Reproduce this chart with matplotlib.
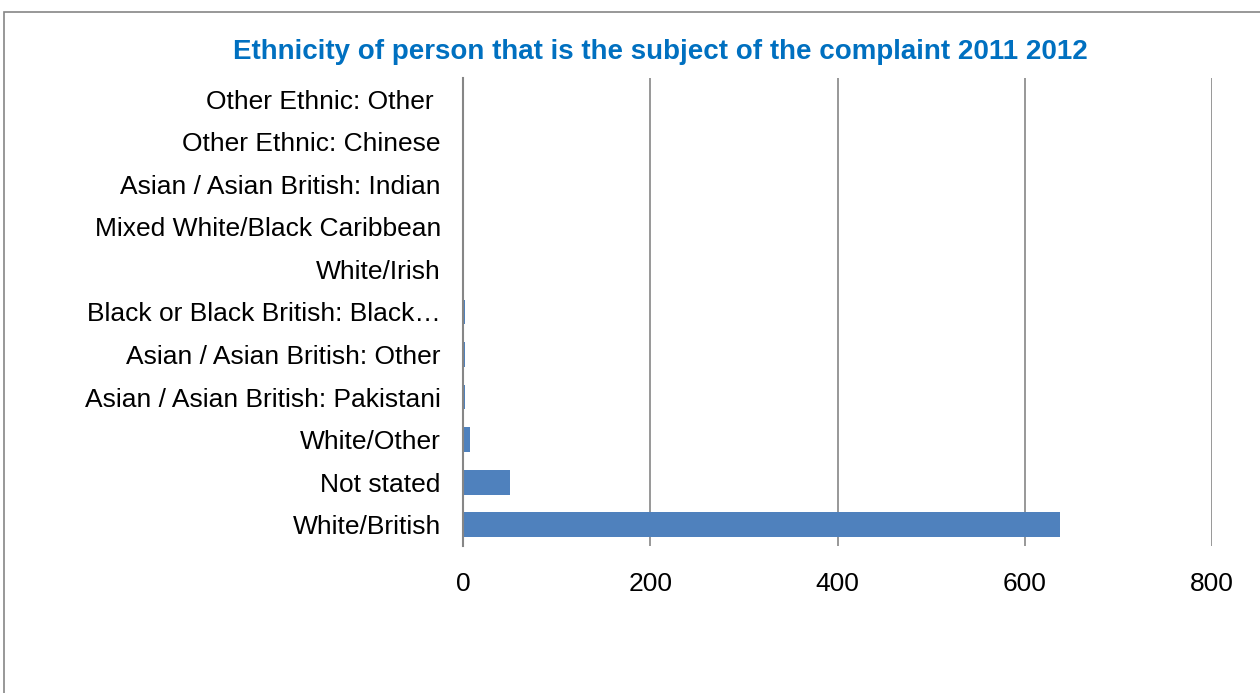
import matplotlib
matplotlib.use("Agg")
import matplotlib.pyplot as plt
from matplotlib.patches import Rectangle

categories = ["White/British", "Not stated", "White/Other",
              "Asian / Asian British: Pakistani", "Asian / Asian British: Other",
              "Black or Black British: Black…", "White/Irish",
              "Mixed White/Black Caribbean", "Asian / Asian British: Indian",
              "Other Ethnic: Chinese", "Other Ethnic: Other "]
values = [638, 50, 7, 2, 2, 2, 1, 1, 1, 1, 1]
xticks = [0, 200, 400, 600, 800]
title = "Ethnicity of person that is the subject of the complaint 2011 2012"

plt.rcParams['font.family'] = ['Liberation Sans', 'DejaVu Sans']

fig = plt.figure(figsize=(12.6, 6.93), dpi=100)
fig.patches.append(Rectangle((4/1260, -0.1), 1.2, 1 - 12/693 + 0.1,
                             transform=fig.transFigure, fill=False,
                             edgecolor='#868686', linewidth=1.2))
ax = fig.add_axes([463/1260, 1 - 546/693, (1212 - 463)/1260, (546 - 78)/693])
ax.barh(range(len(categories)), values, height=0.58, color='#4F81BD')
ax.set_xlim(0, 800)
ax.set_ylim(-0.5, len(categories) - 0.5)
ax.set_xticks(xticks)
ax.set_xticklabels([str(t) for t in xticks], fontsize=19)
ax.set_yticks(range(len(categories)))
ax.set_yticklabels(categories, fontsize=19)
ax.tick_params(axis='both', length=0)
ax.tick_params(axis='x', pad=19)
ax.tick_params(axis='y', pad=16)
ax.grid(axis='x', color='#868686', linewidth=1.2)
ax.set_axisbelow(True)
for s in ['top', 'right', 'bottom']:
    ax.spines[s].set_visible(False)
ax.spines['left'].set_color('#868686')
ax.spines['left'].set_linewidth(1.5)
ax.spines['left'].set_zorder(3)
fig.text(660/1260, 1 - 52/693, title, ha='center', va='center', fontsize=20,
         fontweight='bold', color='#0070C0')
fig.savefig("out.png", dpi=100, facecolor='white')
